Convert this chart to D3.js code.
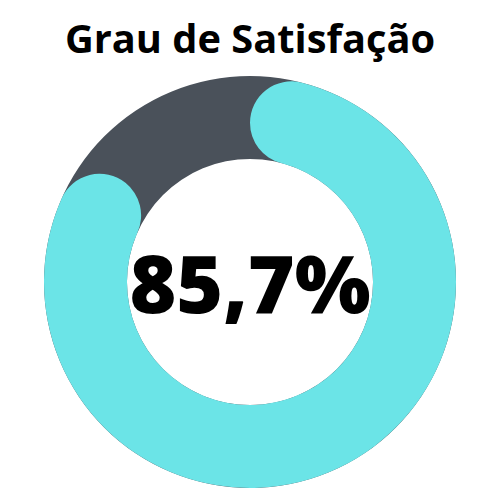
<!DOCTYPE html>
<html><head><meta charset="utf-8">
<script src="https://cdn.jsdelivr.net/npm/d3@7"></script>
<style>html,body{margin:0;padding:0;background:#fff;}</style>
</head><body>
<script>
const title = "Grau de Satisfação";
const categories = ["Satisfeito", "Restante"];
const values = [85.7, 14.3];
const valueLabel = "85,7%";

const W = 500, H = 500;
const cx = 250, cy = 282, R = 206, r = 123;

const svg = d3.select("body").append("svg").attr("width", W).attr("height", H);

svg.append("text").attr("x", 250).attr("y", 53).attr("text-anchor", "middle")
  .attr("font-family", "'Open Sans', sans-serif").attr("font-weight", 700)
  .attr("font-size", 39.8).attr("fill", "#000").text(title);

const g = svg.append("g").attr("transform", `translate(${cx},${cy})`);

const total = d3.sum(values);
const angle = d3.scaleLinear().domain([0, total]).range([0, 2 * Math.PI]);

// background ring
g.append("path")
  .attr("d", d3.arc().innerRadius(r).outerRadius(R)({startAngle: 0, endAngle: 2 * Math.PI}))
  .attr("fill", "#4a515a");

// value arc with rounded ends
g.append("path")
  .datum({startAngle: angle(0), endAngle: angle(values[0])})
  .attr("d", d3.arc().innerRadius(r).outerRadius(R).cornerRadius((R - r) / 2))
  .attr("fill", "#6be4e7");

svg.append("text").attr("x", 250).attr("y", 313).attr("text-anchor", "middle")
  .attr("font-family", "'Open Sans', sans-serif").attr("font-weight", 800)
  .attr("font-size", 80).attr("fill", "#000").text(valueLabel);
</script>
</body></html>
